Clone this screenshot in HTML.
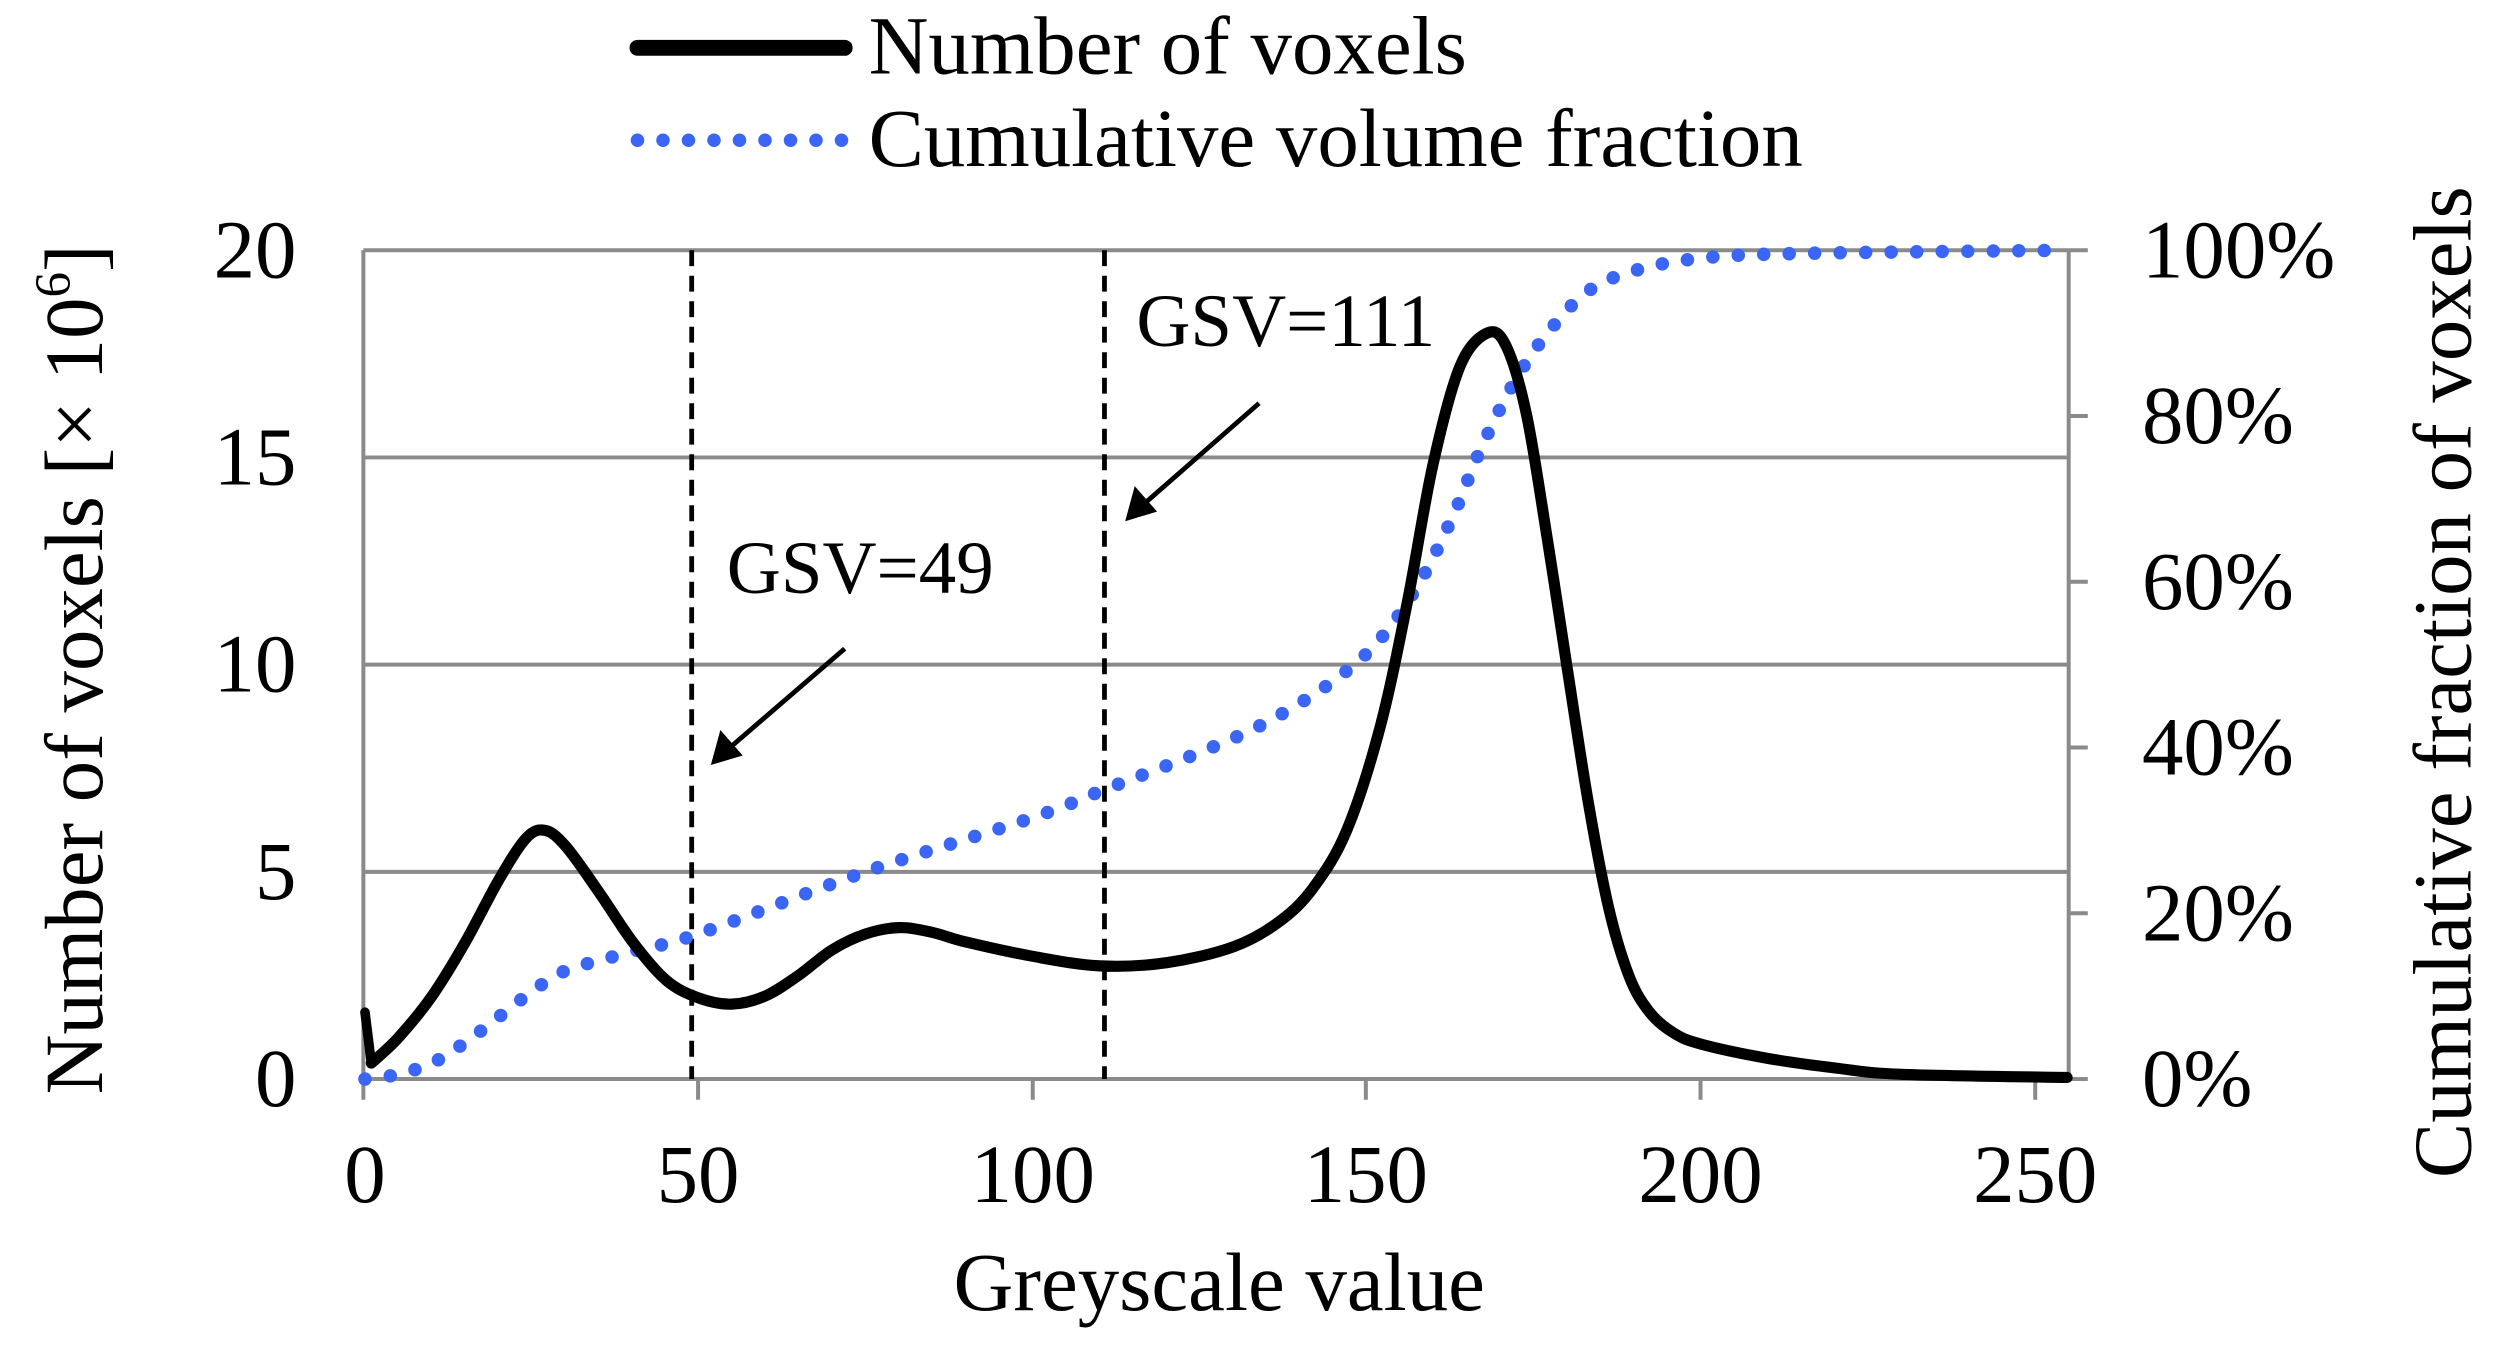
<!DOCTYPE html>
<html><head><meta charset="utf-8"><style>html,body{margin:0;padding:0;background:#fff}svg{display:block}</style></head>
<body>
<svg width="2499" height="1350" viewBox="0 0 1568 847" preserveAspectRatio="none" xmlns="http://www.w3.org/2000/svg" font-family="'Liberation Serif',serif">
<rect width="1568" height="847" fill="#fff"/>
<g stroke="#8a8a8a" stroke-width="2.5">
<line x1="228" y1="157" x2="1298" y2="157"/>
<line x1="228" y1="287" x2="1298" y2="287"/>
<line x1="228" y1="417" x2="1298" y2="417"/>
<line x1="228" y1="547" x2="1298" y2="547"/>
<line x1="228" y1="677" x2="1298" y2="677"/>
<line x1="228" y1="157" x2="228" y2="690"/>
<line x1="1298" y1="157" x2="1298" y2="677"/>
<line x1="438" y1="677" x2="438" y2="690"/><line x1="648" y1="677" x2="648" y2="690"/><line x1="857" y1="677" x2="857" y2="690"/><line x1="1067" y1="677" x2="1067" y2="690"/><line x1="1277" y1="677" x2="1277" y2="690"/>
<line x1="1298" y1="261" x2="1310" y2="261"/><line x1="1298" y1="365" x2="1310" y2="365"/><line x1="1298" y1="469" x2="1310" y2="469"/><line x1="1298" y1="573" x2="1310" y2="573"/><line x1="1298" y1="677" x2="1310" y2="677"/><line x1="1298" y1="157" x2="1310" y2="157"/>
</g>
<g stroke="#000" stroke-width="3" stroke-dasharray="10 6">
<line x1="434" y1="157" x2="434" y2="677"/>
<line x1="693" y1="157" x2="693" y2="677"/>
</g>
<g stroke="#000" stroke-width="3">
<line x1="530" y1="407" x2="458" y2="469"/>
<line x1="790" y1="253" x2="718" y2="316"/>
</g>
<polygon points="446,480 452,458 466,474" fill="#000"/>
<polygon points="706,327 712,305 726,321" fill="#000"/>
<path id="blue" fill="none" stroke="#3b66f5" stroke-width="8.5" stroke-linecap="round" stroke-dasharray="0 16" data-p="229,677 250,674 271,667 292,654 313,638 334,622 355,609 397,597 438,586 543,547 648,513 694,495 753,472 795,453 837,427 866,401 891,365 912,323 929,282 950,240 971,209 996,183 1025,170 1067,162 1130,159 1297,157"/>
<path id="black" fill="none" stroke="#000" stroke-width="7" stroke-linejoin="round" stroke-linecap="round" data-p="233,667 250,651 271,625 292,591 313,552 330,526 342,521 355,531 376,560 397,591 418,615 438,626 459,630 480,625 501,612 522,596 543,586 564,582 585,585 606,591 648,600 690,606 732,604 774,594 803,578 824,557 845,521 866,456 883,378 899,292 916,230 933,209 945,217 958,261 971,339 983,417 996,500 1009,568 1022,612 1035,635 1050,648 1067,655 1109,664 1151,670 1193,674 1297,676"/>
<line x1="229" y1="635" x2="233" y2="667" stroke="#000" stroke-width="6" stroke-linecap="round"/>
<g font-size="52" fill="#000">
<text x="186" y="174" text-anchor="end">20</text>
<text x="186" y="304" text-anchor="end">15</text>
<text x="186" y="434" text-anchor="end">10</text>
<text x="186" y="564" text-anchor="end">5</text>
<text x="186" y="694" text-anchor="end">0</text>
<g text-anchor="middle">
<text x="229" y="754">0</text><text x="438" y="754">50</text><text x="648" y="754">100</text><text x="857" y="754">150</text><text x="1067" y="754">200</text><text x="1277" y="754">250</text>
</g>
<text x="1344" y="174">100%</text>
<text x="1344" y="278">80%</text>
<text x="1344" y="382">60%</text>
<text x="1344" y="486">40%</text>
<text x="1344" y="590">20%</text>
<text x="1344" y="694">0%</text>
<text x="765" y="822" text-anchor="middle">Greyscale value</text>
<text transform="translate(64,420) rotate(-90)" text-anchor="middle">Number of voxels [× 10<tspan font-size="32" dy="-20">6</tspan><tspan dy="20">]</tspan></text>
<text transform="translate(1550,428) rotate(-90)" text-anchor="middle">Cumulative fraction of voxels</text>
<text x="456" y="372" font-size="47">GSV=49</text>
<text x="713" y="217" font-size="47">GSV=111</text>
<text x="545" y="46">Number of voxels</text>
<text x="545" y="104">Cumulative volume fraction</text>
</g>
<line x1="400" y1="30" x2="530" y2="30" stroke="#000" stroke-width="10" stroke-linecap="round"/>
<line x1="400" y1="88" x2="530" y2="88" stroke="#3b66f5" stroke-width="8.5" stroke-linecap="round" stroke-dasharray="0 16"/>
</svg>
<script>
["blue","black"].forEach(function(id){
 var el=document.getElementById(id);
 var p=el.getAttribute("data-p").split(" ").map(function(s){return s.split(",").map(Number);});
 var d="M"+p[0][0]+","+p[0][1];
 for(var i=0;i<p.length-1;i++){
  var p0=p[i-1]||p[i],p1=p[i],p2=p[i+1],p3=p[i+2]||p2;
  var c1x=p1[0]+(p2[0]-p0[0])/6,c1y=p1[1]+(p2[1]-p0[1])/6;
  var c2x=p2[0]-(p3[0]-p1[0])/6,c2y=p2[1]-(p3[1]-p1[1])/6;
  d+=" C"+c1x.toFixed(1)+","+c1y.toFixed(1)+" "+c2x.toFixed(1)+","+c2y.toFixed(1)+" "+p2[0]+","+p2[1];
 }
 el.setAttribute("d",d);
 el.removeAttribute("data-p");
});
</script>
</body></html>
